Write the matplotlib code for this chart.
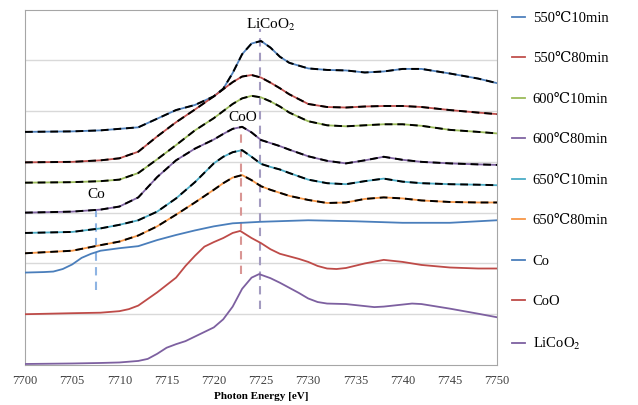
import matplotlib
matplotlib.use("Agg")
import matplotlib.pyplot as plt

# ---------------- data ----------------
E_s = [7700, 7705, 7708, 7710, 7712, 7714, 7716, 7718, 7720, 7721, 7722, 7723, 7724,
       7725, 7726, 7727, 7728, 7730, 7732, 7734, 7736, 7738, 7740, 7742, 7745, 7748, 7750]

s550_10 = [4.59, 4.60, 4.62, 4.65, 4.68, 4.85, 5.02, 5.12, 5.29, 5.44, 5.75, 6.12, 6.33,
           6.38, 6.25, 6.07, 5.95, 5.84, 5.81, 5.80, 5.76, 5.78, 5.83, 5.83, 5.74, 5.64, 5.55]
s550_80 = [3.99, 4.00, 4.03, 4.07, 4.20, 4.50, 4.78, 5.03, 5.29, 5.43, 5.57, 5.68, 5.71,
           5.66, 5.56, 5.45, 5.33, 5.14, 5.08, 5.07, 5.09, 5.10, 5.10, 5.08, 5.02, 4.97, 4.94]
s600_10 = [3.59, 3.60, 3.62, 3.65, 3.78, 4.05, 4.33, 4.62, 4.86, 5.00, 5.14, 5.25, 5.30,
           5.27, 5.19, 5.09, 4.97, 4.80, 4.72, 4.70, 4.72, 4.74, 4.74, 4.71, 4.63, 4.59, 4.56]
s600_80 = [3.00, 3.02, 3.06, 3.12, 3.30, 3.70, 4.03, 4.26, 4.44, 4.55, 4.65, 4.69, 4.58,
           4.43, 4.37, 4.31, 4.24, 4.11, 4.02, 3.97, 4.03, 4.10, 4.04, 4.00, 3.97, 3.95, 3.94]
s650_10 = [2.60, 2.62, 2.69, 2.76, 2.85, 3.02, 3.28, 3.60, 3.97, 4.10, 4.19, 4.23, 4.10,
           3.96, 3.90, 3.85, 3.78, 3.65, 3.58, 3.56, 3.62, 3.67, 3.61, 3.58, 3.56, 3.55, 3.54]
s650_80 = [2.20, 2.25, 2.36, 2.43, 2.55, 2.73, 2.96, 3.20, 3.45, 3.58, 3.69, 3.74, 3.64,
           3.52, 3.45, 3.39, 3.33, 3.25, 3.19, 3.20, 3.27, 3.30, 3.28, 3.24, 3.21, 3.20, 3.20]

E_co = [7700, 7702, 7703, 7704, 7705, 7706, 7707, 7708, 7710, 7712, 7714, 7716, 7718,
        7720, 7722, 7725, 7730, 7735, 7740, 7745, 7750]
co = [1.82, 1.83, 1.84, 1.89, 1.98, 2.11, 2.19, 2.25, 2.30, 2.34, 2.46, 2.56, 2.65,
      2.73, 2.79, 2.82, 2.85, 2.83, 2.80, 2.80, 2.85]

E_coo = [7700, 7705, 7708, 7710, 7711, 7712, 7713, 7714, 7716, 7717, 7718, 7719, 7720,
         7721, 7722, 7722.8, 7724, 7725, 7726, 7727, 7728, 7729, 7730, 7731, 7732, 7733,
         7734, 7736, 7738, 7740, 7742, 7745, 7748, 7750]
coo = [1.00, 1.02, 1.03, 1.06, 1.10, 1.17, 1.30, 1.43, 1.72, 1.95, 2.15, 2.33, 2.42,
       2.50, 2.60, 2.64, 2.50, 2.40, 2.28, 2.19, 2.14, 2.09, 2.03, 1.95, 1.90, 1.89,
       1.91, 2.00, 2.07, 2.03, 1.97, 1.92, 1.90, 1.90]

E_lco = [7700, 7705, 7708, 7710, 7712, 7713, 7714, 7715, 7716, 7717, 7718, 7719, 7720,
         7721, 7722, 7723, 7724, 7724.8, 7726, 7727, 7728, 7729, 7730, 7731, 7732, 7734,
         7736, 7737, 7738, 7740, 7741, 7742, 7745, 7748, 7750]
lco = [0.02, 0.03, 0.04, 0.05, 0.08, 0.12, 0.22, 0.34, 0.41, 0.47, 0.56, 0.65, 0.74,
       0.90, 1.15, 1.50, 1.72, 1.79, 1.71, 1.62, 1.52, 1.42, 1.31, 1.24, 1.21, 1.20,
       1.16, 1.14, 1.15, 1.19, 1.21, 1.20, 1.11, 1.01, 0.94]

sample_labels = ["550℃10min", "550℃80min", "600℃10min", "600℃80min", "650℃10min", "650℃80min"]
ref_labels = ["Co", "CoO", "LiCoO$_2$"]

# reference marker lines: energy, y-start, y-end
marker_E = [7707.5, 7722.9, 7724.9]
marker_y0 = [1.48, 1.80, 1.11]
marker_y1 = [3.08, 4.70, 6.62]
marker_text = ["Co", "CoO", "LiCoO$_2$"]
text_E = [7707.5, 7723.1, 7726.0]
text_y = [3.36, 4.88, 6.70]

xticks = list(range(7700, 7751, 5))

# ---------------- style ----------------
sample_colors = ["#4F81BD", "#C0504D", "#9BBB59", "#8064A2", "#4BACC6", "#F79646"]
ref_colors = ["#4A7EBB", "#BE4B48", "#7D60A0"]
marker_colors = ["#8EB4E3", "#D99694", "#A39BC0"]
serif = ["Liberation Serif", "DejaVu Serif", "Noto Sans CJK SC"]

plt.rcParams["font.family"] = serif
plt.rcParams["mathtext.fontset"] = "stix"

fig = plt.figure(figsize=(6.38, 4.05), dpi=100)
ax = fig.add_axes([25 / 638, 40 / 405, 472 / 638, 355.5 / 405])

samples = [s550_10, s550_80, s600_10, s600_80, s650_10, s650_80]
handles = []
for vals, c, lab in zip(samples, sample_colors, sample_labels):
    h, = ax.plot(E_s, vals, color=c, lw=1.3, label=lab, zorder=3)
    handles.append(h)
    ax.plot(E_s, vals, color="black", lw=1.4, ls=(0, (4, 2.5)), zorder=4)

for Ex, vals, c, lab in zip([E_co, E_coo, E_lco], [co, coo, lco], ref_colors, ref_labels):
    h, = ax.plot(Ex, vals, color=c, lw=1.3, label=lab, zorder=3)
    handles.append(h)

for e, y0, y1, c in zip(marker_E, marker_y0, marker_y1, marker_colors):
    ax.plot([e, e], [y0, y1], color=c, lw=1.5, ls=(0, (4, 3)), zorder=2)

for e, y, t in zip(text_E, text_y, marker_text):
    ax.text(e, y, t, ha="center", va="center", fontsize=11, family=serif, zorder=5)

ax.set_xlim(7700, 7750)
ax.set_ylim(0, 7)
ax.set_xticks(xticks)
ax.set_xticklabels([str(t) for t in xticks], fontsize=9)
ax.set_yticks(range(1, 7))
ax.set_yticklabels([])
ax.tick_params(axis="y", length=0)
ax.tick_params(axis="x", length=0, pad=7, colors="#404040")
ax.grid(axis="y", color="#D9D9D9", lw=1)
ax.set_axisbelow(True)
for sp in ax.spines.values():
    sp.set_color("#A6A6A6")
ax.set_xlabel("Photon Energy [eV]", fontsize=8, fontweight="bold", labelpad=3.5)

leg = ax.legend(handles=handles, loc="upper left", bbox_to_anchor=(1.02, 1.01),
                frameon=False, fontsize=10.5, handlelength=0.9, handletextpad=0.5,
                labelspacing=1.87, borderaxespad=0)

fig.savefig("out.png", dpi=100)
